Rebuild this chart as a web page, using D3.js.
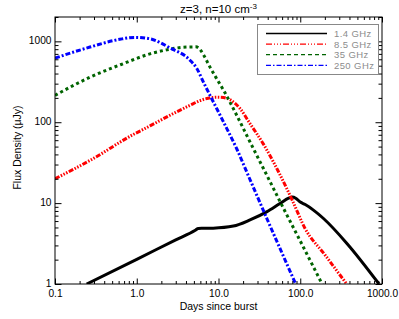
<!DOCTYPE html>
<html>
<head>
<meta charset="utf-8">
<script src="https://cdn.jsdelivr.net/npm/d3@7"></script>
<style>
  body { margin: 0; background: #fff; }
  svg { display: block; font-family: "Liberation Sans", Arial, sans-serif; }
</style>
</head>
<body>
<svg id="chart" width="399" height="319"></svg>
<script>
// light curves, [days, flux in uJy]
let flux14 = [[0.244,1],[1,2.02],[3,3.51],[5.2,4.62],[5.66,4.87],[6.5,4.88],[8.6,4.9],[15.2,5.2],[24.3,6.2],[38.8,7.8],[56.5,9.9],[72,11.5],[80,11.9],[88,11.5],[100,10.3],[115,9.6],[145,8.2],[191,6.5],[370,3.2],[920,1]];
let flux85 = [[0.1,20],[0.3,36],[0.826,67],[1.45,90],[2.55,122],[4.48,162],[5.94,185],[7.5,198],[9.5,204],[11.5,202],[13.8,190],[18.3,148],[24.3,96],[35.3,54],[51.5,27],[80,10.8],[114,4.9],[200,2.3],[370,1]];
let flux35 = [[0.1,215],[0.268,360],[0.685,530],[1.45,700],[2.32,785],[3.71,845],[5.3,855],[5.9,800],[6.52,690],[7.87,480],[9.5,345],[11.5,250],[16.7,122],[24.3,57],[35.3,27],[60,9.3],[100,3.4],[195,0.9]];
let flux250 = [[0.1,620],[0.268,850],[0.62,1060],[0.95,1120],[1.45,1075],[2.55,830],[4.48,585],[5.41,465],[6.52,315],[7.87,215],[9.5,148],[12.6,84],[16.7,47],[22.1,24.4],[40,6.1],[88,1]];

let seriesNames = ["1.4 GHz", "8.5 GHz", "35 GHz", "250 GHz"];
let seriesData = [flux14, flux85, flux35, flux250];

let xMajor = [0.1, 1, 10, 100, 1000];
let xLabels = ["0.1", "1.0", "10.0", "100.0", "1000.0"];
let yMajor = [1, 10, 100, 1000];
let yLabels = ["1", "10", "100", "1000"];

let svg = d3.select("#chart");
let pLeft = 55, pRight = 382, pTop = 17, pBottom = 284;

let x = d3.scaleLog().domain([0.1, 1000]).range([pLeft, pRight]);
let y = d3.scaleLog().domain([1, 2000]).range([pBottom, pTop]);

let xMinor = [];
for (let d = 0.1; d < 1000; d *= 10) for (let k = 2; k < 10; k++) xMinor.push(d * k);
let yMinor = [];
for (let d = 1; d < 2000; d *= 10) for (let k = 2; k < 10; k++) if (d * k <= 2000) yMinor.push(d * k);

let styles = [
    {color: "#000000", dash: null, width: 3, legDash: null},
    {color: "#ff0000", dash: "5,1.5,1.5,1.5,1.5,1.5,1.5,1.5", width: 3, legDash: "6,2,1,2,1,2,1,2"},
    {color: "#006400", dash: "3,3", width: 3, legDash: "4,3"},
    {color: "#0000ff", dash: "5,2,2,2", width: 3, legDash: "5,2,1.5,2"}
];

svg.append("clipPath").attr("id", "plotclip")
    .append("rect").attr("x", pLeft).attr("y", pTop).attr("width", pRight - pLeft).attr("height", pBottom - pTop);

let line = d3.line().x(d => x(d[0])).y(d => y(d[1])).curve(d3.curveMonotoneX);

let plot = svg.append("g").attr("clip-path", "url(#plotclip)");
seriesData.forEach((data, i) => {
    plot.append("path")
        .attr("fill", "none")
        .attr("stroke", styles[i].color)
        .attr("stroke-width", styles[i].width)
        .attr("stroke-dasharray", styles[i].dash)
        .attr("d", line(data));
});

// axes, ticks inside on all four sides
let axisStyle = g => {
    g.select(".domain").remove();
    g.selectAll("line").attr("stroke", "#000");
};
svg.append("g").attr("transform", "translate(0," + pBottom + ")")
    .call(d3.axisBottom(x).tickValues(xMajor).tickSize(-5.5).tickPadding(5.5).tickFormat((d, i) => xLabels[i]))
    .call(axisStyle)
    .call(g => g.selectAll("text").attr("font-size", 10.2).attr("fill", "#000").attr("font-family", "Liberation Sans, Arial"));
svg.append("g").attr("transform", "translate(0," + pBottom + ")")
    .call(d3.axisBottom(x).tickValues(xMinor).tickSize(-3).tickFormat(""))
    .call(axisStyle);
svg.append("g").attr("transform", "translate(0," + pTop + ")")
    .call(d3.axisTop(x).tickValues(xMajor).tickSize(-5.5).tickFormat(""))
    .call(axisStyle);
svg.append("g").attr("transform", "translate(0," + pTop + ")")
    .call(d3.axisTop(x).tickValues(xMinor).tickSize(-3).tickFormat(""))
    .call(axisStyle);

svg.append("g").attr("transform", "translate(" + pLeft + ",0)")
    .call(d3.axisLeft(y).tickValues(yMajor).tickSize(-6.5).tickPadding(3.5).tickFormat((d, i) => yLabels[i]))
    .call(axisStyle)
    .call(g => g.selectAll("text").attr("font-size", 10.2).attr("dy", "0.22em").attr("fill", "#000").attr("font-family", "Liberation Sans, Arial"));
svg.append("g").attr("transform", "translate(" + pLeft + ",0)")
    .call(d3.axisLeft(y).tickValues(yMinor).tickSize(-3.5).tickFormat(""))
    .call(axisStyle);
svg.append("g").attr("transform", "translate(" + pRight + ",0)")
    .call(d3.axisRight(y).tickValues(yMajor).tickSize(-6.5).tickFormat(""))
    .call(axisStyle);
svg.append("g").attr("transform", "translate(" + pRight + ",0)")
    .call(d3.axisRight(y).tickValues(yMinor).tickSize(-3.5).tickFormat(""))
    .call(axisStyle);

svg.append("rect")
    .attr("x", pLeft).attr("y", pTop)
    .attr("width", pRight - pLeft).attr("height", pBottom - pTop)
    .attr("fill", "none").attr("stroke", "#000").attr("stroke-width", 1);

// title
let title = svg.append("text")
    .attr("x", (pLeft + pRight) / 2).attr("y", 12.5)
    .attr("text-anchor", "middle")
    .attr("font-size", 11.5)
    .text("z=3, n=10 cm");
title.append("tspan").attr("dy", -4).attr("font-size", 8).text("-3");

svg.append("text")
    .attr("x", (pLeft + pRight) / 2).attr("y", 309.5)
    .attr("text-anchor", "middle")
    .attr("font-size", 10.5)
    .text("Days since burst");

svg.append("text")
    .attr("transform", "translate(21," + ((pTop + pBottom) / 2 - 3) + ") rotate(-90)")
    .attr("text-anchor", "middle")
    .attr("font-size", 10.5)
    .text("Flux Density (\u03bcJy)");

// legend
let leg = svg.append("g");
leg.append("rect")
    .attr("x", 257.5).attr("y", 24.5).attr("width", 121).attr("height", 50)
    .attr("fill", "#fff").attr("stroke", "#888").attr("stroke-width", 1);
seriesNames.forEach((name, i) => {
    let yy = 33.5 + i * 10.6;
    leg.append("line")
        .attr("x1", 266).attr("x2", 327).attr("y1", yy).attr("y2", yy)
        .attr("stroke", styles[i].color)
        .attr("stroke-width", 1.3)
        .attr("stroke-dasharray", styles[i].legDash);
    leg.append("text")
        .attr("x", 334).attr("y", yy + 3.5)
        .attr("font-size", 9.5)
        .attr("letter-spacing", 0.4)
        .attr("fill", "#8c8c8c")
        .text(name);
});
</script>
</body>
</html>
